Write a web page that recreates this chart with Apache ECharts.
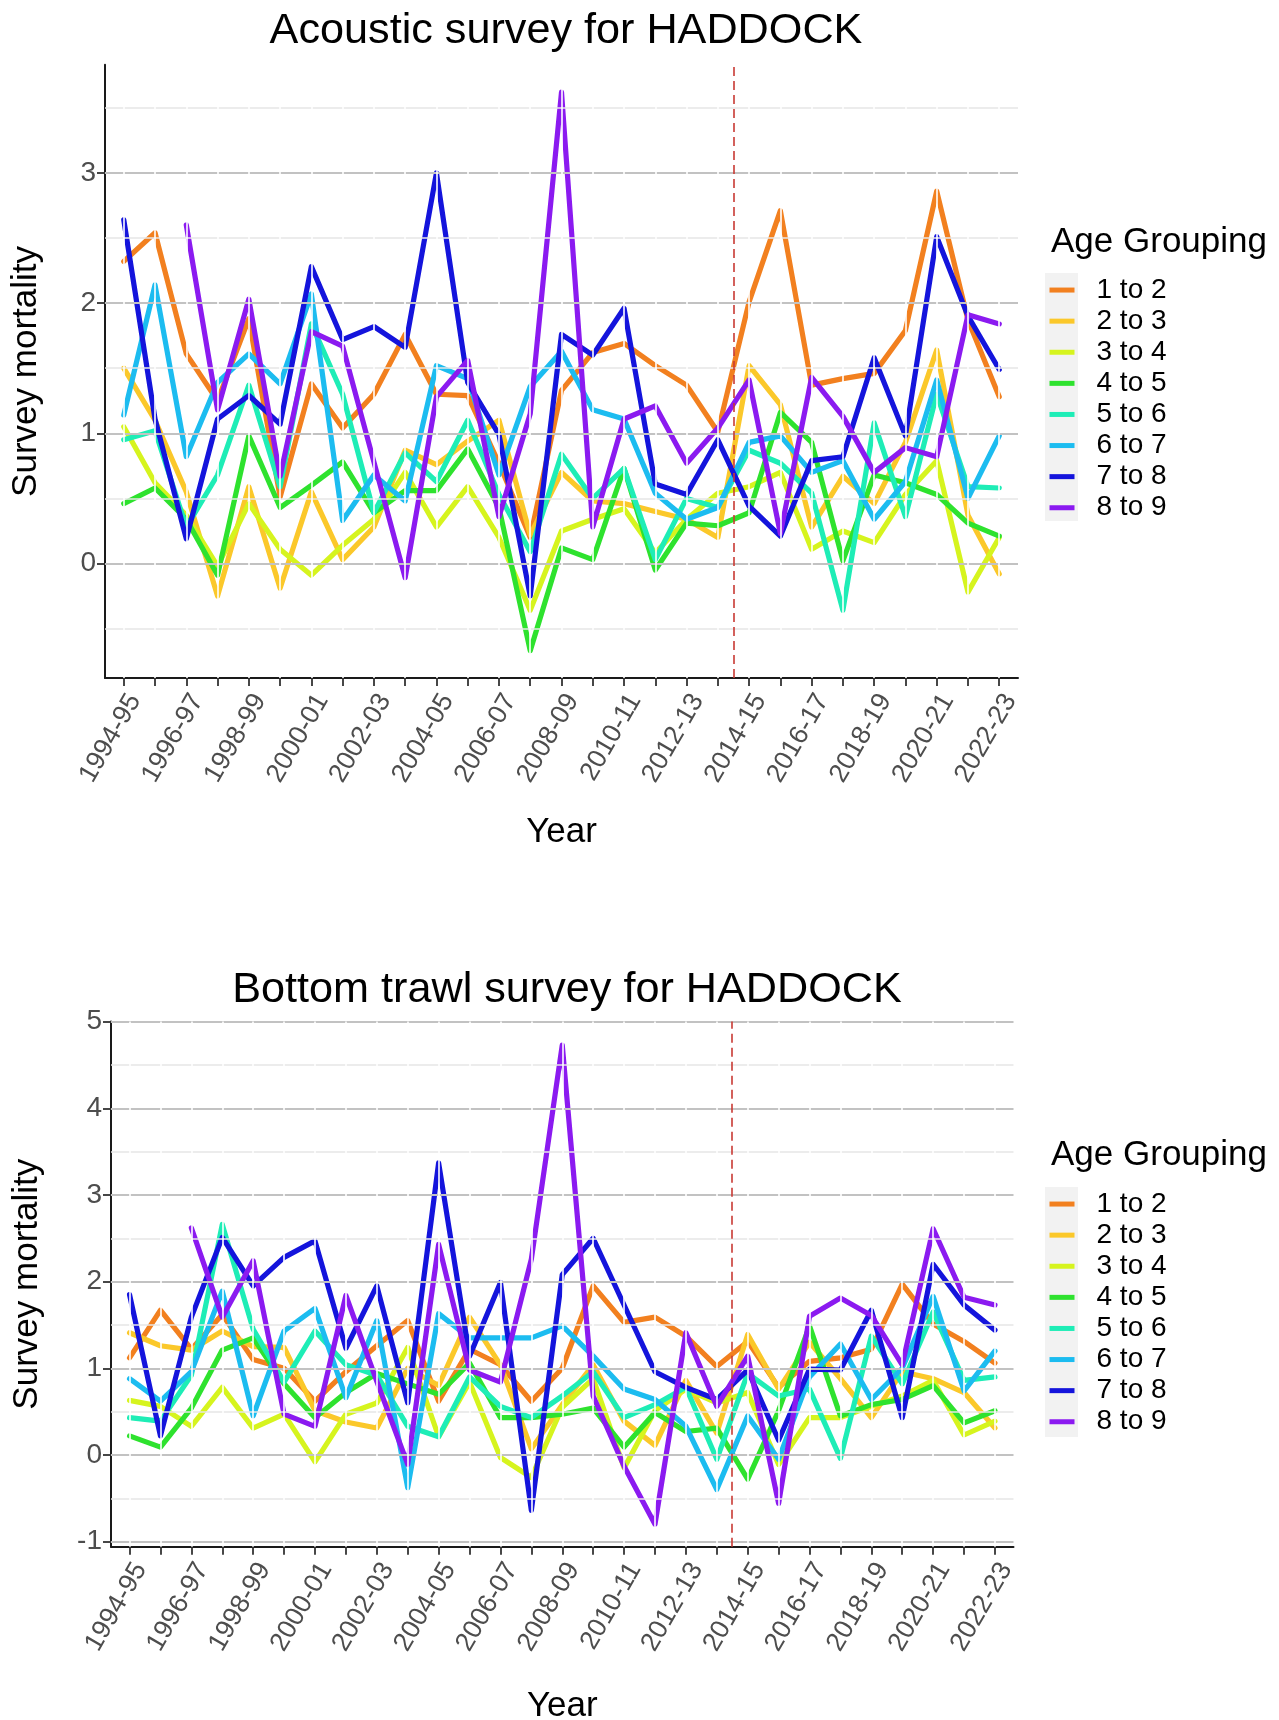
<!DOCTYPE html>
<html>
<head>
<meta charset="utf-8">
<script src="https://cdn.jsdelivr.net/npm/echarts@6/dist/echarts.min.js"></script>
<style>
html,body{margin:0;padding:0;background:#ffffff;}
#chart{width:1279px;height:1720px;}
</style>
</head>
<body>
<div id="chart"></div>
<script>
// ---------------- DATA ----------------
const categories = ['1994-95','1995-96','1996-97','1997-98','1998-99','1999-00','2000-01','2001-02','2002-03','2003-04',
  '2004-05','2005-06','2006-07','2007-08','2008-09','2009-10','2010-11','2011-12','2012-13','2013-14',
  '2014-15','2015-16','2016-17','2017-18','2018-19','2019-20','2020-21','2021-22','2022-23'];
const xLabelIndices = [0,2,4,6,8,10,12,14,16,18,20,22,24,26,28];
const ageGroups = ['1 to 2','2 to 3','3 to 4','4 to 5','5 to 6','6 to 7','7 to 8','8 to 9'];
const dividerAfterIndex = 19;   // dashed line between 2013-14 and 2014-15

const topTitle = 'Acoustic survey for HADDOCK';
const bottomTitle = 'Bottom trawl survey for HADDOCK';

const topYTicks = [0,1,2,3];
const topYMinor = [-0.5,0.5,1.5,2.5,3.5];
const topYRange = [-0.88, 3.83];
const bottomYTicks = [-1,0,1,2,3,4,5];
const bottomYMinor = [-0.5,0.5,1.5,2.5,3.5,4.5];
const bottomYRange = [-1.06, 5.0];

// Acoustic survey
const acoustic_1to2 = [2.32,2.54,1.61,1.25,1.88,0.51,1.38,1.04,1.30,1.76,1.30,1.29,0.77,0.20,1.33,1.62,1.69,1.52,1.37,1.01,2.01,2.71,1.37,1.42,1.46,1.79,2.86,1.87,1.28];
const acoustic_2to3 = [1.50,1.10,0.55,-0.25,0.59,-0.19,0.55,0.03,0.28,0.87,0.76,0.94,1.10,0.22,0.70,0.48,0.46,0.40,0.34,0.20,1.52,1.22,0.28,0.67,0.46,0.93,1.64,0.37,-0.08];
const acoustic_3to4 = [1.05,0.62,0.37,-0.02,0.46,0.11,-0.09,0.14,0.34,0.70,0.28,0.59,0.20,-0.36,0.25,0.34,0.42,0.08,0.34,0.54,0.59,0.70,0.11,0.25,0.16,0.53,0.79,-0.22,0.20];
const acoustic_4to5 = [0.46,0.58,0.34,-0.09,0.98,0.43,0.60,0.78,0.39,0.56,0.56,0.88,0.43,-0.67,0.12,0.03,0.73,-0.05,0.31,0.29,0.39,1.16,0.93,0.02,0.68,0.62,0.53,0.31,0.21];
const acoustic_5to6 = [0.95,1.02,0.28,0.68,1.37,0.59,1.84,1.30,0.39,0.85,0.63,1.10,0.53,0.09,0.84,0.50,0.73,0.03,0.50,0.43,0.87,0.77,0.54,-0.36,1.08,0.36,1.30,0.59,0.58];
const acoustic_6to7 = [1.14,2.14,0.82,1.39,1.61,1.38,2.07,0.33,0.68,0.48,1.52,1.42,0.68,1.36,1.63,1.18,1.11,0.54,0.34,0.43,0.93,0.98,0.70,0.79,0.34,0.63,1.41,0.50,0.98];
const acoustic_7to8 = [2.64,1.11,0.19,1.11,1.29,1.07,2.28,1.72,1.82,1.66,3.00,1.39,0.99,-0.25,1.76,1.60,1.96,0.61,0.53,0.95,0.44,0.21,0.79,0.82,1.58,0.98,2.51,1.90,1.49];
const acoustic_8to9 = [null,null,2.60,1.18,2.03,0.67,1.78,1.67,0.78,-0.11,1.28,1.56,0.36,1.15,3.62,0.28,1.11,1.21,0.77,1.04,1.41,0.23,1.43,1.13,0.70,0.89,0.82,1.91,1.84];

// Bottom trawl survey
const trawl_1to2 = [1.12,1.67,1.22,1.62,1.10,1.00,0.62,0.96,1.26,1.55,0.62,1.22,1.04,0.62,1.00,1.95,1.53,1.59,1.37,1.02,1.31,0.78,1.08,1.12,1.22,1.97,1.51,1.31,1.06];
const trawl_2to3 = [1.41,1.26,1.21,1.43,1.25,1.24,0.51,0.38,0.31,1.00,0.80,1.59,1.04,0.07,0.58,1.04,0.39,0.11,0.86,0.25,1.39,0.76,1.30,0.88,0.43,0.96,0.88,0.72,0.31];
const trawl_3to4 = [0.63,0.56,0.33,0.78,0.31,0.47,-0.08,0.47,0.60,1.24,0.21,0.84,-0.03,-0.26,0.55,0.88,-0.15,0.51,0.76,0.60,0.72,-0.11,0.43,0.43,0.56,0.68,0.86,0.23,0.39];
const trawl_4to5 = [0.22,0.09,0.54,1.21,1.35,0.82,0.43,0.72,0.94,0.82,0.70,1.06,0.43,0.43,0.47,0.54,0.09,0.49,0.27,0.31,-0.28,0.51,1.49,0.45,0.58,0.64,0.80,0.37,0.51];
const trawl_5to6 = [0.43,0.39,0.92,2.66,1.45,0.84,1.43,1.04,0.92,0.33,0.21,0.90,0.56,0.43,0.68,0.96,0.43,0.58,0.78,-0.05,0.94,0.68,0.76,-0.04,1.37,0.82,1.65,0.86,0.90];
const trawl_6to7 = [0.88,0.62,0.96,1.89,0.45,1.43,1.69,0.66,1.55,-0.38,1.63,1.35,1.35,1.35,1.49,1.14,0.76,0.64,0.33,-0.40,0.45,-0.05,0.90,1.28,0.64,1.00,1.83,0.74,1.20];
const trawl_7to8 = [1.85,0.22,1.59,2.51,1.95,2.28,2.47,1.23,1.95,0.60,3.37,1.14,1.99,-0.64,2.08,2.50,1.73,0.96,0.78,0.64,0.98,0.17,0.99,0.98,1.67,0.43,2.20,1.73,1.44];
const trawl_8to9 = [null,null,2.62,1.59,2.24,0.47,0.33,1.84,0.85,-0.11,2.43,0.98,0.84,2.26,4.73,0.68,-0.13,-0.80,1.41,0.56,1.14,-0.56,1.60,1.81,1.61,1.04,2.61,1.82,1.73];

// ---------------- STYLE / LAYOUT ----------------
const palette = ['#F2801F','#FBC82A','#D6F41E','#2EE22E','#1EEDB6','#1CBCF0','#1414DC','#8B1AF0'];
const FONT = '"Liberation Sans", Arial, Helvetica, sans-serif';
const X_PAD = 0.6;                 // ggplot discrete expansion (category units)
const grids = [
  {left:105, top:64.8, width:913, height:613.3},
  {left:111, top:1021.6, width:902.5, height:525.2}
];
const LABEL_SHIFT_PX = 11;         // rotated-label anchor shift to the right (hjust=1, vjust=1 look)

const acousticSets = [acoustic_1to2,acoustic_2to3,acoustic_3to4,acoustic_4to5,acoustic_5to6,acoustic_6to7,acoustic_7to8,acoustic_8to9];
const trawlSets = [trawl_1to2,trawl_2to3,trawl_3to4,trawl_4to5,trawl_5to6,trawl_6to7,trawl_7to8,trawl_8to9];

function pairs(vals){
  const out = [];
  vals.forEach((v,i)=>{ if(v !== null) out.push([i, v]); });
  return out;
}

function dataSeries(sets, idx){
  return sets.map((vals,k)=>({
    type:'line', name: ageGroups[k], xAxisIndex: idx, yAxisIndex: idx,
    data: pairs(vals), symbol:'none', showSymbol:false, silent:true, z:2,
    lineStyle:{width:5.2, color: palette[k], join:'round', cap:'round'},
    itemStyle:{color: palette[k]},
    emphasis:{disabled:true}, animation:false
  }));
}

function decoSeries(idx, major, minor){
  const d = [];
  minor.forEach(v=>d.push({yAxis:v, lineStyle:{color:'#e6e6e6', width:1.5, type:'solid'}}));
  major.forEach(v=>d.push({yAxis:v, lineStyle:{color:'#c2c2c2', width:2, type:'solid'}}));
  categories.forEach((c,i)=>d.push({xAxis:i, lineStyle:{color:'#ffffff', width:1.6, type:'solid'}}));
  return [{
    type:'line', xAxisIndex: idx, yAxisIndex: idx, data:[], z:1, silent:true, animation:false,
    markLine:{symbol:['none','none'], silent:true, animation:false, label:{show:false}, emphasis:{disabled:true}, data:d}
  },{
    type:'line', xAxisIndex: idx, yAxisIndex: idx, data:[], z:1.5, silent:true, animation:false,
    markLine:{symbol:['none','none'], silent:true, animation:false, label:{show:false}, emphasis:{disabled:true},
      data:[{xAxis: dividerAfterIndex + 0.5, lineStyle:{color:'#c93a34', width:1.6, type:[9,5]}}]}
  }];
}

function xAxisDef(idx, gap){
  return {
    type:'value', gridIndex: idx, min:-X_PAD, max: categories.length - 1 + X_PAD, z:3,
    axisLine:{show:true, onZero:false, lineStyle:{color:'#1a1a1a', width:2}},
    axisTick:{show:true, customValues: categories.map((c,i)=>i), length:8, lineStyle:{color:'#333333', width:1.8}},
    axisLabel:{show:false},
    splitLine:{show:false},
    name:'Year', nameLocation:'middle', nameGap: gap,
    nameTextStyle:{fontSize:35, color:'#000000', fontFamily: FONT}
  };
}

// label-only axis: same scale, shifted so the rotated labels hang like ggplot's hjust=1/vjust=1
function xLabelAxisDef(idx){
  const span = categories.length - 1 + 2 * X_PAD;
  const shift = LABEL_SHIFT_PX * span / grids[idx].width;
  return {
    type:'value', gridIndex: idx, position:'bottom', offset:0,
    min: -X_PAD - shift, max: categories.length - 1 + X_PAD - shift,
    axisLine:{show:false}, axisTick:{show:false}, splitLine:{show:false},
    axisLabel:{show:true, customValues: xLabelIndices, rotate:60, margin:18,
      fontSize:26.5, color:'#4d4d4d', fontFamily: FONT,
      formatter:(v)=>categories[Math.round(v)]}
  };
}

function yAxisDef(idx, range, ticks, gap){
  return {
    type:'value', gridIndex: idx, min: range[0], max: range[1], z:3,
    axisLine:{show:true, onZero:false, lineStyle:{color:'#1a1a1a', width:2}},
    axisTick:{show:true, customValues: ticks, length:8, lineStyle:{color:'#333333', width:1.8}},
    axisLabel:{show:true, customValues: ticks, margin:9, fontSize:28, color:'#4d4d4d', fontFamily: FONT},
    splitLine:{show:false},
    name:'Survey mortality', nameLocation:'middle', nameRotate:90, nameGap: gap,
    nameTextStyle:{fontSize:35, color:'#000000', fontFamily: FONT}
  };
}

function legendDef(top){
  return {
    orient:'vertical', left:1049.5, top: top, padding:0, itemGap:0,
    itemWidth:25, itemHeight:5, icon:'rect', data: ageGroups, selectedMode:false,
    textStyle:{fontSize:28, color:'#000000', fontFamily: FONT, lineHeight:31.1, padding:[0,0,0,17]}
  };
}

const chart = echarts.init(document.getElementById('chart'), null, {renderer:'canvas'});
const option = {
  backgroundColor:'#ffffff',
  animation:false,
  textStyle:{fontFamily: FONT},
  title:[
    {text: topTitle, left:561, top:5, textAlign:'center', textStyle:{fontSize:43.2, fontWeight:'normal', color:'#000', fontFamily: FONT}},
    {text: bottomTitle, left:562, top:964, textAlign:'center', textStyle:{fontSize:43.2, fontWeight:'normal', color:'#000', fontFamily: FONT}},
    {text: 'Age Grouping', left:1046, top:220, textStyle:{fontSize:35, fontWeight:'normal', color:'#000', fontFamily: FONT}},
    {text: 'Age Grouping', left:1046, top:1133, textStyle:{fontSize:35, fontWeight:'normal', color:'#000', fontFamily: FONT}}
  ],
  graphic:[
    {type:'rect', left:1045, top:273, shape:{width:33, height:248}, style:{fill:'#f2f2f2'}, z:-1, silent:true},
    {type:'rect', left:1045, top:1187, shape:{width:33, height:250}, style:{fill:'#f2f2f2'}, z:-1, silent:true}
  ],
  legend:[ legendDef(274.5), legendDef(1188.5) ],
  grid: grids.map(g=>Object.assign({containLabel:false, outerBoundsMode:'none'}, g)),
  xAxis:[ xAxisDef(0, 137), xAxisDef(1, 142), xLabelAxisDef(0), xLabelAxisDef(1) ],
  yAxis:[ yAxisDef(0, topYRange, topYTicks, 61), yAxisDef(1, bottomYRange, bottomYTicks, 66) ],
  series: [].concat(
    decoSeries(0, topYTicks, topYMinor),
    decoSeries(1, bottomYTicks, bottomYMinor),
    dataSeries(acousticSets, 0),
    dataSeries(trawlSets, 1)
  )
};
chart.setOption(option);
</script>
</body>
</html>
